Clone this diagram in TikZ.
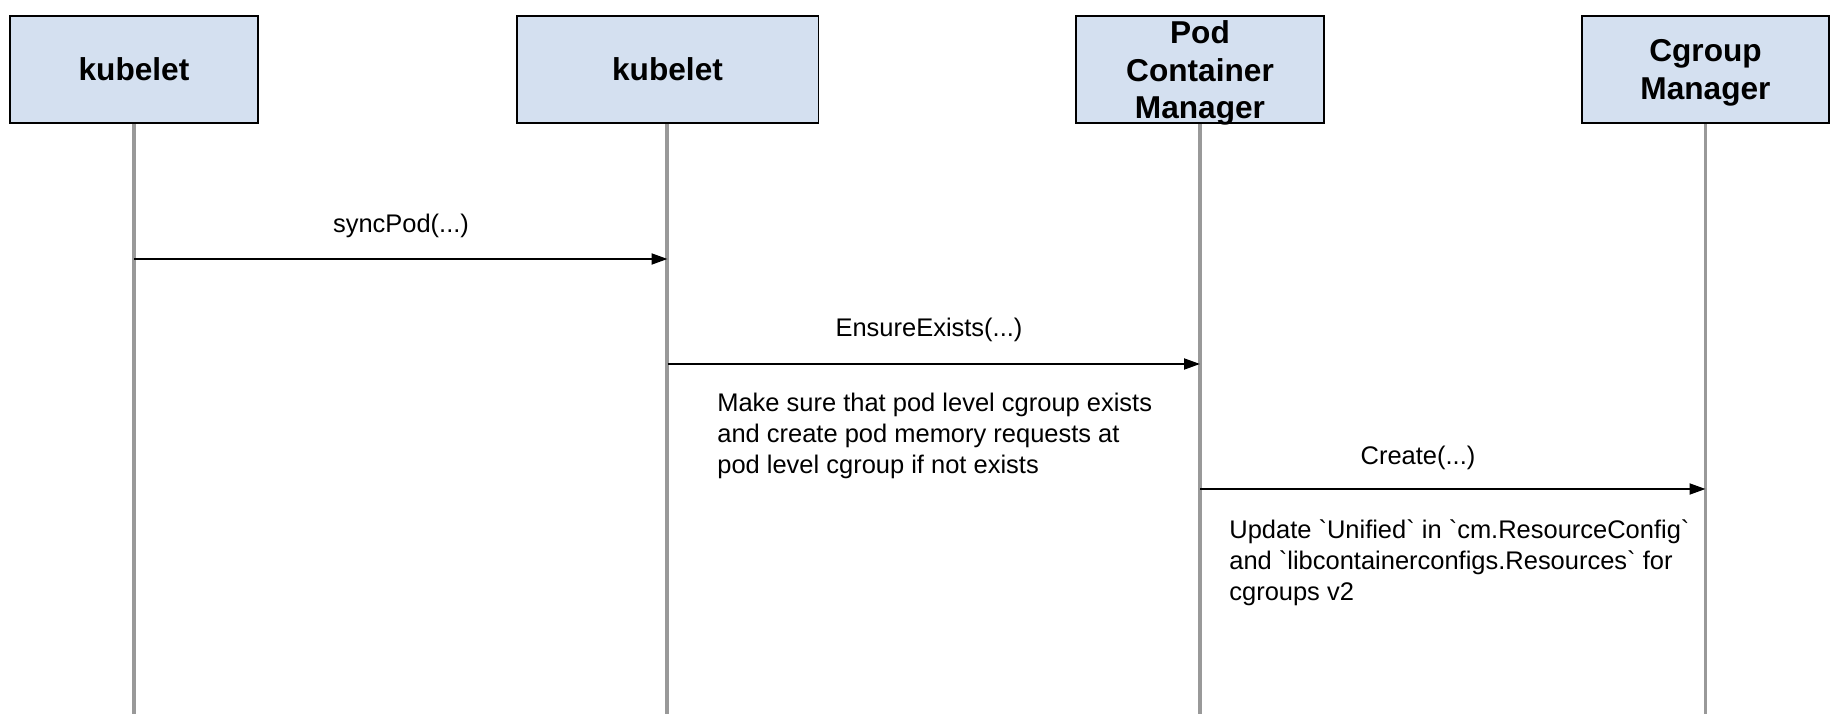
\documentclass[tikz,border=0pt]{standalone}
\usepackage{fontspec}
\setmainfont{Liberation Sans}
\usetikzlibrary{arrows.meta}
\definecolor{boxblue}{HTML}{D4E0F0}
\definecolor{linegray}{HTML}{999999}
\newcommand{\dn}[1]{\raisebox{-2pt}[\height][\depth]{#1}}
\newcommand{\bq}{\textasciigrave}

\begin{document}
\begin{tikzpicture}[x=0.02cm, y=-0.02cm,
    actor/.style={draw=black, line width=1.1pt, fill=boxblue,
      minimum width=4.96cm, minimum height=2.14cm, inner sep=0pt,
      align=center, font=\fontsize{18}{21.5}\selectfont\bfseries},
    life/.style={draw=linegray, line width=1.9pt},
    msg/.style={draw=black, line width=1.1pt,
      -{Triangle[length=0.32cm, width=0.22cm]}},
    lbl/.style={font=\fontsize{14.5}{17.6}\selectfont, inner sep=0pt},
    note/.style={lbl, align=left, anchor=west}]
    \pgfmathsetmacro{\ytop}{69.5}
    \pgfmathsetmacro{\ybot}{714}
    \pgfmathsetmacro{\ysync}{259}
    \pgfmathsetmacro{\yensure}{364}
    \pgfmathsetmacro{\ycreate}{489}
    \useasboundingbox (0,0) rectangle (1842,722);
    % lifelines
    \coordinate (kubeAend) at (134,\ybot);
    \coordinate (kubeBend) at (667,\ybot);
    \coordinate (podmgrend) at (1200,\ybot);
    \coordinate (cgmgrend) at (1705.5,\ybot);
    \draw[life] (134,\ytop) -- (kubeAend);
    \draw[life] (667,\ytop) -- (kubeBend);
    \draw[life] (1200,\ytop) -- (podmgrend);
    \draw[life] (1705.5,\ytop) -- (cgmgrend);
    % participants
    \node[actor] (kubeA) at (134,\ytop) {kubelet};
    \node[actor, minimum width=6.04cm] (kubeB) at (667.5,\ytop) {kubelet};
    \node[actor] (podmgr) at (1200,\ytop) {\dn{Pod}\\\dn{Container}\\\dn{Manager}};
    \node[actor, minimum width=4.94cm] (cgmgr) at (1705.5,\ytop) {\dn{Cgroup}\\\dn{Manager}};
    % messages
    \draw[msg] (kubeA |- 0,\ysync) -- (kubeB |- 0,\ysync);
    \node[lbl] (syncl) at (401,226) {syncPod(...)};
    \draw[msg] (kubeB |- 0,\yensure) -- (podmgr |- 0,\yensure);
    \node[lbl] (ensurel) at (929,330) {EnsureExists(...)};
    \node[note] (ensuren) at (717,436) {Make sure that pod level cgroup exists\\
      and create pod memory requests at\\pod level cgroup if not exists};
    \draw[msg] (podmgr |- 0,\ycreate) -- (cgmgr |- 0,\ycreate);
    \node[lbl] (createl) at (1418,458) {Create(...)};
    \node[note] (createn) at (1229,563) {Update \bq Unified\bq{} in \bq cm.ResourceConfig\bq\\
      and \bq libcontainerconfigs.Resources\bq{} for\\cgroups v2};
\end{tikzpicture}
\end{document}
